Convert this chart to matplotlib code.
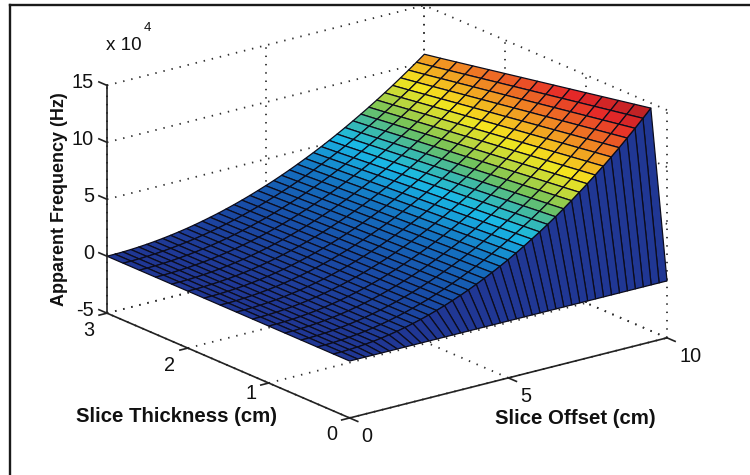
import numpy as np
import matplotlib
matplotlib.use("Agg")
import matplotlib.pyplot as plt
from matplotlib.colors import LinearSegmentedColormap, Normalize
from matplotlib.lines import Line2D
from mpl_toolkits.mplot3d import proj3d

plt.rcParams['font.family'] = ['Liberation Sans', 'DejaVu Sans']

# values
slice_offset = [0, .25, .5, .75, 1, 1.25, 1.5, 1.75, 2, 2.25, 2.5, 2.75, 3, 3.25, 3.5, 3.75, 4, 4.25, 4.5, 4.75, 5,
                5.25, 5.5, 5.75, 6, 6.25, 6.5, 6.75, 7, 7.25, 7.5, 7.75, 8, 8.25, 8.5, 8.75, 9, 9.25, 9.5, 9.75, 10]
slice_thickness = [0, .2, .4, .6, .8, 1, 1.2, 1.4, 1.6, 1.8, 2, 2.2, 2.4, 2.6, 2.8, 3]
# apparent frequency (x 10^4 Hz) along the thin-slice edge of the surface
edge_frequency = [0, .009, .036, .082, .146, .228, .328, .446, .582, .737, .91, 1.10, 1.31, 1.54, 1.78, 2.05, 2.33,
                  2.63, 2.95, 3.29, 3.64, 4.01, 4.40, 4.81, 5.24, 5.69, 6.15, 6.63, 7.13, 7.65, 8.19, 8.75, 9.32,
                  9.91, 10.52, 11.15, 11.79, 12.46, 13.14, 13.84, 14.56]
# fraction of that edge value reached at each slice thickness
thickness_falloff = [0, 1, .981, .962, .943, .924, .905, .886, .867, .848, .829, .810, .791, .772, .753, .735]
x_ticks = [0, 5, 10]
y_ticks = [0, 1, 2, 3]
z_ticks = [-5, 0, 5, 10, 15]

X, Y = np.meshgrid(slice_offset, slice_thickness)
Z = np.outer(thickness_falloff, edge_frequency)

W, H = 750, 475
fig = plt.figure(figsize=(7.5, 4.75), dpi=100, facecolor='white')

anchors = [(0, (32, 55, 148)), (.125, (24, 78, 168)), (.25, (20, 112, 192)), (.375, (25, 185, 230)),
           (.44, (60, 185, 170)), (.5, (115, 195, 90)), (.56, (190, 215, 60)), (.625, (245, 230, 30)),
           (.75, (240, 135, 35)), (.875, (230, 40, 40)), (1, (170, 30, 35))]
cmap = LinearSegmentedColormap.from_list('printjet', [(p, tuple(v / 255 for v in c)) for p, c in anchors])
norm = Normalize(0, max(edge_frequency))

S = 600.0
def place(cx, cy, side):
    ax.set_position([(cx - side / 2) / W, (cy - side / 2) / H, side / W, side / H], which='both')
    ax.apply_aspect()

ax = fig.add_axes([0, 0, 1, 1], projection='3d', proj_type='ortho', computed_zorder=False)
ax.view_init(elev=19.28, azim=-127.4)
ax.set_box_aspect((400, 400, 241.6), zoom=1.0)
ax.set_xlim(0, 10)
ax.set_ylim(0, 3)
ax.set_zlim(-5, 15)
ax.set_axis_off()

def data2d(x, y, z):
    a, b, _ = proj3d.proj_transform(x, y, z, ax.get_proj())
    return a, b

def disp(x, y, z):
    return ax.transData.transform(data2d(x, y, z))

# fit the box to the reference corners
t1 = np.array([107, H - 313.0])
t2 = np.array([667, H - 338.0])
cx, cy = W / 2, H / 2
place(cx, cy, S)
d1, d2 = disp(0, 3, -5), disp(10, 0, -5)
S *= np.linalg.norm(t2 - t1) / np.linalg.norm(d2 - d1)
place(cx, cy, S)
d1, d2 = disp(0, 3, -5), disp(10, 0, -5)
shift = ((t1 - d1) + (t2 - d2)) / 2
place(cx + shift[0], cy + shift[1], S)

dot = dict(color='#303030', lw=1.3, linestyle=(0, (0.8, 3.8)), zorder=1)
# back walls and floor
for z in z_ticks:
    ax.plot([0, 10], [3, 3], [z, z], **dot)
    ax.plot([10, 10], [0, 3], [z, z], **dot)
for x in x_ticks:
    ax.plot([x, x], [3, 3], [-5, 15], **dot)
    ax.plot([x, x], [0, 3], [-5, -5], **dot)
for y in y_ticks:
    ax.plot([10, 10], [y, y], [-5, 15], **dot)
    ax.plot([0, 10], [y, y], [-5, -5], **dot)

fc = cmap(norm(Z))
ax.plot_surface(X, Y, Z, rstride=1, cstride=1, facecolors=fc, shade=False,
                edgecolor='#0c0c1c', linewidth=0.9, antialiased=True, zorder=2)

solid = dict(color='#222222', lw=1.2, zorder=3)
ax.plot([0, 0], [3, 3], [-5, 15], **solid)
ax.plot([0, 0], [0, 3], [-5, -5], **solid)
ax.plot([0, 10], [0, 0], [-5, -5], **solid)

label = dict(fontsize=14.3, color='#111111', annotation_clip=False, textcoords='offset pixels')
for z in z_ticks:
    ax.plot([0, 0], [3, 3.1], [z, z], **solid)
    ax.annotate(str(z), xy=data2d(0, 3, z), xytext=(-13, 3), ha='right', va='center', **label)
for y in y_ticks:
    ax.plot([0, -.25], [y, y], [-5, -5], **solid)
    ax.annotate(str(y), xy=data2d(0, y, -5), xytext=(-18, -10 if y == 1 else -17),
                ha='center', va='center', **label)
for x in x_ticks:
    ax.plot([x, x], [0, -.1], [-5, -5], **solid)
    ax.annotate(str(x), xy=data2d(x, 0, -5), xytext=(12, -19), ha='left', va='center', **label)

bold = dict(fontweight='bold', color='#111111')
fig.text(59 / W, 1 - 199 / H, 'Apparent Frequency (Hz)', rotation=90, ha='center', va='center', fontsize=13, **bold)
fig.text(176 / W, 1 - 417 / H, 'Slice Thickness (cm)', ha='center', va='center', fontsize=14.7, **bold)
fig.text(575 / W, 1 - 418 / H, 'Slice Offset (cm)', ha='center', va='center', fontsize=14.7, **bold)
fig.text(106 / W, 1 - 45 / H, 'x 10', ha='left', va='center', fontsize=13.6, color='#111111')
fig.text(144 / W, 1 - 28 / H, '4', ha='left', va='center', fontsize=9.5, color='#111111')

fig.add_artist(Line2D([10 / W, 10 / W], [0, 1 - 5 / H], color='#1a1a1a', lw=1.7))
fig.add_artist(Line2D([10 / W, 1], [1 - 5 / H, 1 - 5 / H], color='#1a1a1a', lw=1.7))

fig.savefig('out.png', dpi=100)
